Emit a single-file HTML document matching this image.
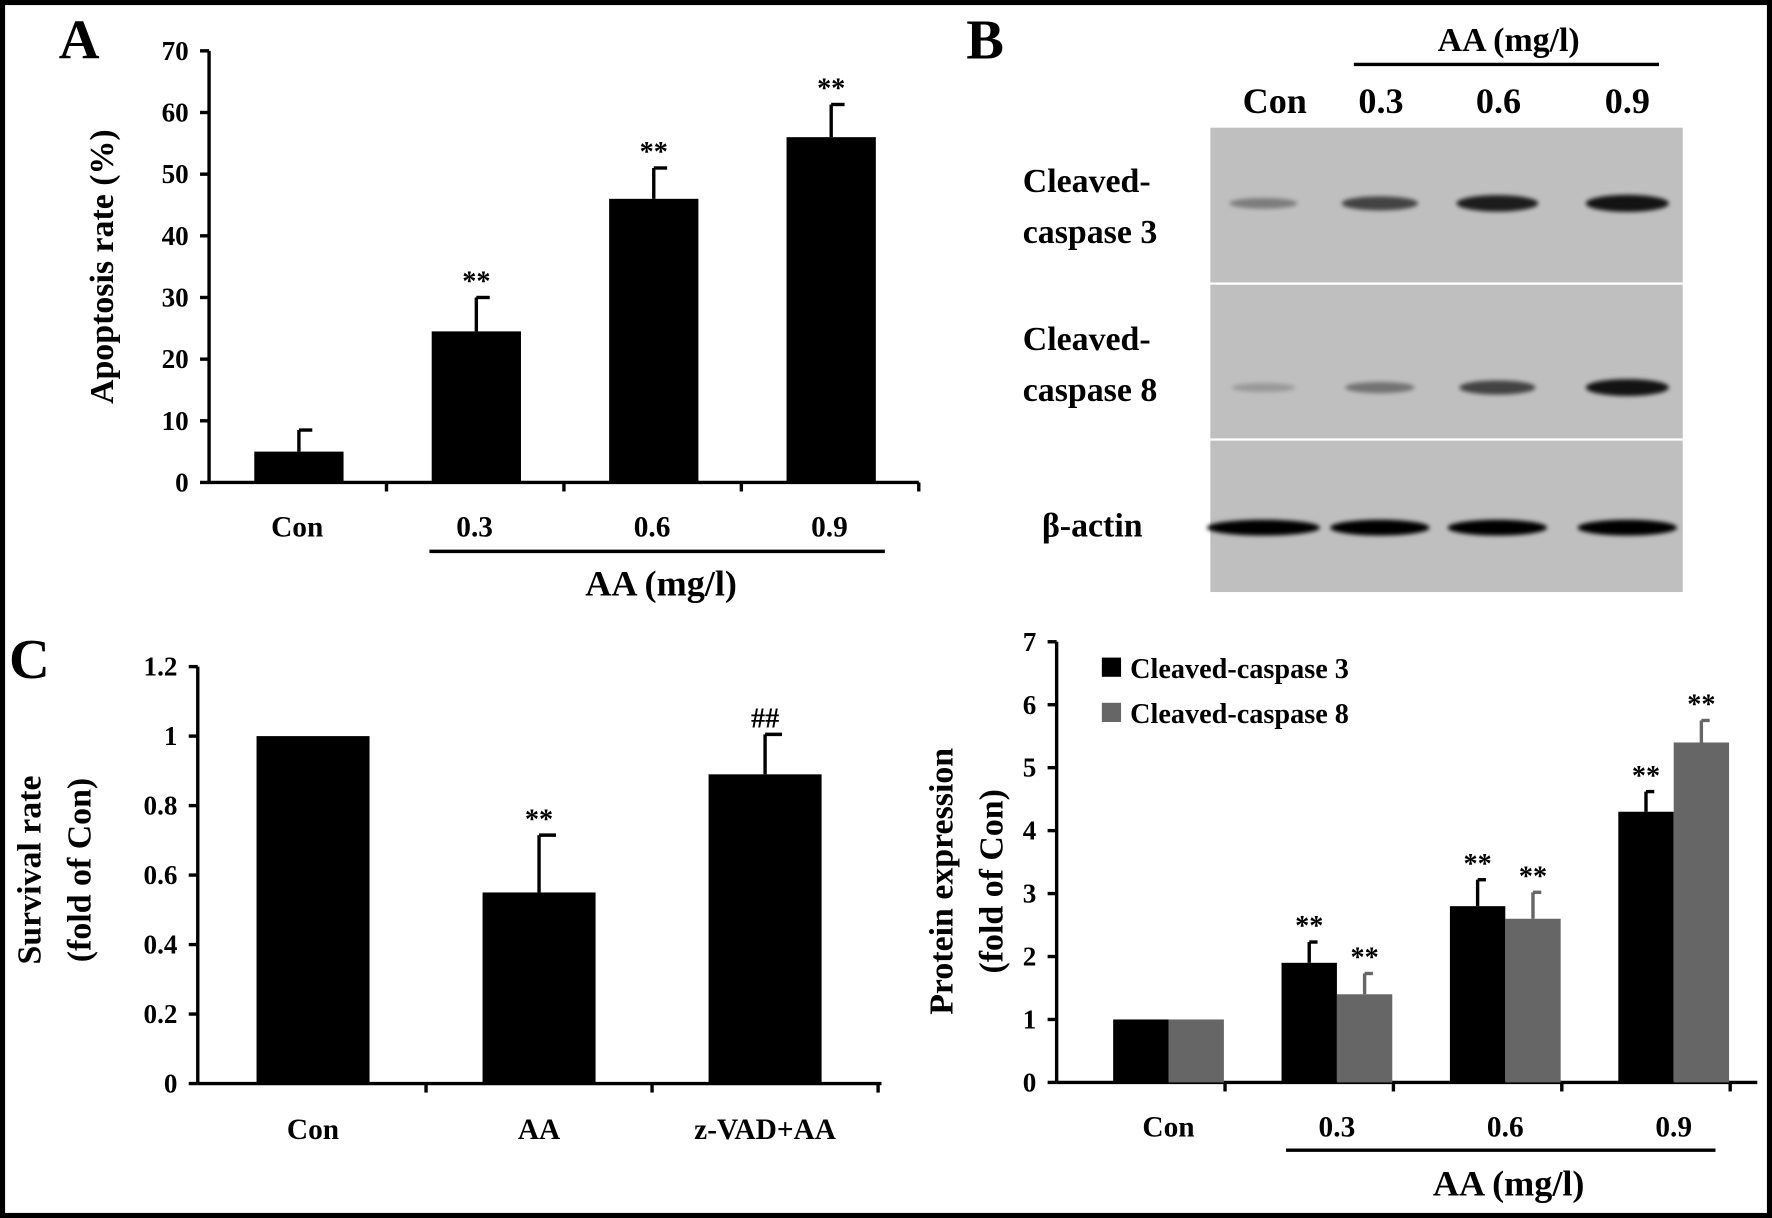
<!DOCTYPE html>
<html><head><meta charset="utf-8"><style>
html,body{margin:0;padding:0;background:#fff}
svg{display:block}
text{font-family:"Liberation Serif",serif;font-weight:bold;fill:#000}
</style></head><body>
<svg id="fig" width="1772" height="1218" viewBox="0 0 1568 1078" preserveAspectRatio="none" xmlns="http://www.w3.org/2000/svg">
<defs><filter id="blur" x="-20%" y="-200%" width="140%" height="500%"><feGaussianBlur stdDeviation="2"/></filter></defs>
<rect x="2" y="2" width="1564" height="1074" fill="#fff" stroke="#000" stroke-width="5"/>
<g id="gA"></g>
<g id="gB"></g>
<g id="gC"></g>
<g id="gD"></g>
</svg>
<script>
// Panel A data
const aCategories = ["Con","0.3","0.6","0.9"];
const aValues = [5,24.5,46,56];
const aErrors = [3.5,5.5,5,5.3];
const aStars = ["","**","**","**"];
const aTicks = [0,10,20,30,40,50,60,70];
// Panel C data
const cCategories = ["Con","AA","z-VAD+AA"];
const cValues = [1,0.55,0.89];
const cErrors = [0,0.165,0.115];
const cStars = ["","**","##"];
const cTicks = [0,0.2,0.4,0.6,0.8,1,1.2];
// Panel D data
const dCategories = ["Con","0.3","0.6","0.9"];
const dCasp3 = [1,1.9,2.8,4.3];
const dCasp3Err = [0,0.33,0.42,0.32];
const dCasp8 = [1,1.4,2.6,5.4];
const dCasp8Err = [0,0.33,0.42,0.35];
const dStars3 = ["","**","**","**"];
const dStars8 = ["","**","**","**"];
const dTicks = [0,1,2,3,4,5,6,7];
// Panel B blot intensities (0..1)
const bLanes = ["Con","0.3","0.6","0.9"];
const bCasp3 = [0.35,0.65,0.85,0.9];
const bCasp8 = [0.2,0.4,0.65,0.9];
const bActin = [1,1,1,1];

const NS="http://www.w3.org/2000/svg";
function mk(parent,tag,attrs,txt){const e=document.createElementNS(NS,tag);for(const k in attrs)e.setAttribute(k,attrs[k]);if(txt!==undefined)e.textContent=txt;parent.appendChild(e);return e;}

function axes(g,x0,y0,x1,yTop,ticks,max,fmt){
  const ys=v=>y0-(y0-yTop)*v/max;
  const ax=mk(g,'line',{x1:x0,y1:y0,x2:x0,y2:yTop,stroke:'#000','stroke-width':3});
  
  
  const bx=mk(g,'line',{x1:x0,y1:y0,x2:x1,y2:y0,stroke:'#000','stroke-width':3});
  
  
  ticks.forEach(t=>{
    const y=ys(t);
    mk(g,'line',{x1:x0-8,y1:y,x2:x0,y2:y,stroke:'#000','stroke-width':3});
    const tl=mk(g,'text',{x:x0-18,y:y+8,'font-size':24,'text-anchor':'end'},fmt(t));
    
    
  });
  return ys;
}
function bar(g,x,w,v,e,ys,fill,star,name){
  const y0=ys(0),y=ys(v);
  const r=mk(g,'rect',{x:x,y:y,width:w,height:y0-y,fill:fill});
  
  
  const cx=x+w/2;
  if(e>0){const ye=ys(v+e);
    mk(g,'line',{x1:cx,y1:y,x2:cx,y2:ye,stroke:fill,'stroke-width':3});
    mk(g,'line',{x1:cx,y1:ye,x2:cx+w*0.15,y2:ye,stroke:fill,'stroke-width':3});}
  if(star){const s=mk(g,'text',{x:cx,y:ys(v+e)-6,'font-size':25,'text-anchor':'middle'},star);
    
    }
}
function label(g,x,y,size,txt,name,anchor,rot){
  const a={x:x,y:y,'font-size':size,'text-anchor':anchor||'middle'};
  if(rot)a.transform=`rotate(-90 ${x} ${y})`;
  const t=mk(g,'text',a,txt);
  
  
  return t;
}

// Panel A
(function(){
  const g=document.getElementById('gA');
  const ys=axes(g,185,427,813,45,aTicks,70,t=>t);
  const step=157,start=185;
  aCategories.forEach((c,i)=>{
    mk(g,'line',{x1:start+step*(i+1),y1:427,x2:start+step*(i+1),y2:435,stroke:'#000','stroke-width':3});
    bar(g,start+step*i+40,79,aValues[i],aErrors[i],ys,'#000',aStars[i],'bar-'+c);
    label(g,start+step*i+78,475,26,c,'x-label-'+c);
  });
  mk(g,'line',{x1:380,y1:488,x2:783,y2:488,stroke:'#000','stroke-width':3});
  label(g,585,527,32,'AA (mg/l)','x-axis-title');
  label(g,100,236,30,'Apoptosis rate (%)','y-axis-title','middle',true);
  label(g,52,52,50,'A','panel-label-a','start');
})();

// Panel C
(function(){
  const g=document.getElementById('gC');
  const ys=axes(g,175,959,780,590,cTicks,1.2,t=>String(t));
  const step=200,start=177;
  cCategories.forEach((c,i)=>{
    mk(g,'line',{x1:start+step*(i+1),y1:959,x2:start+step*(i+1),y2:967,stroke:'#000','stroke-width':3});
    bar(g,start+step*i+50,100,cValues[i],cErrors[i],ys,'#000',cStars[i],'bar-'+c);
    label(g,start+step*i+100,1008,26,c,'x-label-'+c);
  });
  label(g,36,770,30,'Survival rate','y-axis-title','middle',true);
  label(g,80,770,30,'(fold of Con)','y-axis-title-2','middle',true);
  label(g,8,600,50,'C','panel-label-c','start');
})();

// Panel D
(function(){
  const g=document.getElementById('gD');
  const ys=axes(g,935,958,1555,568,dTicks,7,t=>t);
  const step=149,start=935;
  dCategories.forEach((c,i)=>{
    mk(g,'line',{x1:start+step*(i+1),y1:958,x2:start+step*(i+1),y2:966,stroke:'#000','stroke-width':3});
    bar(g,start+step*i+50,49,dCasp3[i],dCasp3Err[i],ys,'#000',dStars3[i],'bar-casp3-'+c);
    bar(g,start+step*i+99,49,dCasp8[i],dCasp8Err[i],ys,'#666',dStars8[i],'bar-casp8-'+c);
    label(g,start+step*i+99,1006,26,c,'x-label-'+c);
  });
  mk(g,'line',{x1:1138,y1:1018,x2:1518,y2:1018,stroke:'#000','stroke-width':3});
  label(g,1335,1058,32,'AA (mg/l)','x-axis-title');
  label(g,843,780,30,'Protein expression','y-axis-title','middle',true);
  label(g,887,780,30,'(fold of Con)','y-axis-title-2','middle',true);
  const l1=mk(g,'rect',{x:975,y:582,width:17,height:17,fill:'#000'});
  
  
  label(g,1000,600,25,'Cleaved-caspase 3','legend-entry-casp3','start');
  const l2=mk(g,'rect',{x:975,y:622,width:17,height:17,fill:'#666'});
  
  
  label(g,1000,640,25,'Cleaved-caspase 8','legend-entry-casp8','start');
})();

// Panel B
(function(){
  const g=document.getElementById('gB');
  label(g,855,52,50,'B','panel-label-b','start');
  label(g,1335,45,30,'AA (mg/l)','blot-dose-title');
  mk(g,'line',{x1:1198,y1:57,x2:1468,y2:57,stroke:'#000','stroke-width':3});
  const laneX=[1118,1221,1325,1440];
  const hdrX=[1128,1222,1326,1440];
  bLanes.forEach((c,i)=>label(g,hdrX[i],100,32,c,'lane-label-'+c));
  const rows=[[113,250,180,bCasp3,'caspase3'],[252,388,343,bCasp8,'caspase8'],[390,524,467,bActin,'actin']];
  rows.forEach(r=>{
    const bg=mk(g,'rect',{x:1071,y:r[0],width:418,height:r[1]-r[0],fill:'#bfbfbf'});
    
    
    r[3].forEach((v,i)=>{
      const isA=r[4]==='actin';
      const e=mk(g,'ellipse',{cx:laneX[i],cy:r[2],rx:isA?(i===0?50:44):26+v*12,ry:isA?7:3+v*5,fill:'#000','fill-opacity':v,filter:'url(#blur)'});
      
      
    });
  });
  label(g,905,170,30,'Cleaved-','row-label-casp3','start');
  label(g,905,215,30,'caspase 3','row-label-casp3b','start');
  label(g,905,310,30,'Cleaved-','row-label-casp8','start');
  label(g,905,355,30,'caspase 8','row-label-casp8b','start');
  label(g,922,475,30,'β-actin','row-label-actin','start');
})();
</script>
</body></html>
